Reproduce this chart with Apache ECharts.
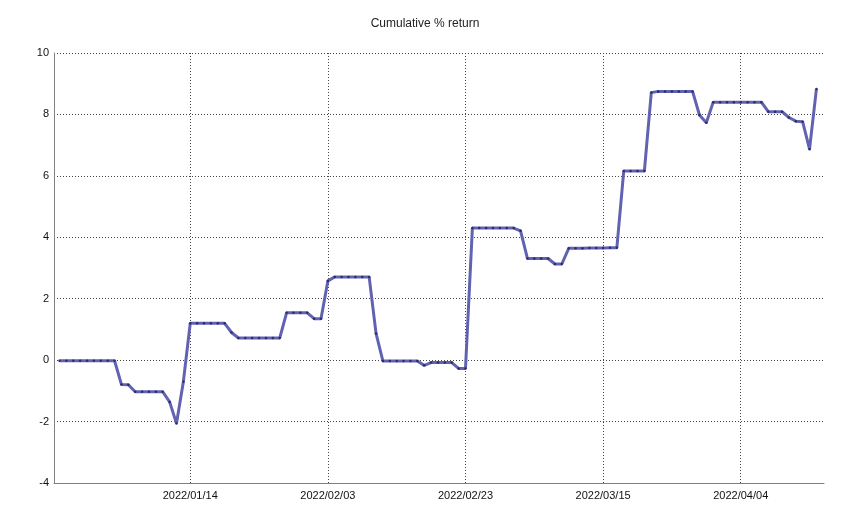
<!DOCTYPE html>
<html>
<head>
<meta charset="utf-8">
<script src="https://cdn.jsdelivr.net/npm/echarts@6/dist/echarts.min.js"></script>
<style>
html,body{margin:0;padding:0;background:#fff;}
#main{width:850px;height:528px;}
</style>
</head>
<body>
<div id="main"></div>
<script>
// first trading day on the chart, one point per calendar day after it
var startDate = '2021/12/26';
// cumulative % return, day by day
var returns = [
	-0.02,-0.02,-0.02,-0.02,-0.02,-0.02,-0.02,-0.02,-0.02,
	-0.79,-0.8,
	-1.03,-1.03,-1.03,-1.03,-1.03,
	-1.36,-2.06,-0.7,
	1.2,1.2,1.2,1.2,1.2,1.2,
	0.9,
	0.72,0.72,0.72,0.72,0.72,0.72,0.72,
	1.54,1.54,1.54,1.54,
	1.35,1.35,
	2.58,
	2.71,2.71,2.71,2.71,2.71,2.71,
	0.87,
	-0.03,-0.03,-0.03,-0.03,-0.03,-0.03,
	-0.17,
	-0.08,-0.08,-0.08,-0.08,
	-0.27,-0.27,
	4.3,4.3,4.3,4.3,4.3,4.3,4.3,
	4.21,
	3.31,3.31,3.31,3.31,
	3.13,3.13,
	3.64,3.64,3.64,3.65,3.65,3.65,3.66,3.66,
	6.16,6.16,6.16,6.16,
	8.71,
	8.75,8.75,8.75,8.75,8.75,8.75,
	7.98,7.73,
	8.4,8.4,8.4,8.4,8.4,8.4,8.4,8.4,
	8.09,8.09,8.09,
	7.9,7.78,7.76,6.87,8.83
];
var tickDates = ['2022/01/14','2022/02/03','2022/02/23','2022/03/15','2022/04/04'];
var yTicks = [-4,-2,0,2,4,6,8,10];

var DAY=86400000;
var t0=new Date(startDate).getTime();
function dayOf(s){
	return Math.round((new Date(s).getTime()-t0)/DAY);
}
function pad(n){ return n<10?'0'+n:''+n; }
function dateOf(d){
	var dt=new Date(t0+d*DAY);
	return dt.getFullYear()+'/'+pad(dt.getMonth()+1)+'/'+pad(dt.getDate());
}

var points=[];
for(var i=0;i<returns.length;i++){
	points.push([i,returns[i]]);
}
var tickDays=[];
for(var k=0;k<tickDates.length;k++){
	tickDays.push(dayOf(tickDates[k]));
}

var font='Liberation Sans';
var myChart=echarts.init(document.getElementById('main'));
var option={
	animation:false,
	backgroundColor:'#ffffff',
	title:{
		text:'Cumulative % return',
		left:'center',
		top:13,
		textStyle:{fontFamily:font,fontSize:12,fontWeight:'normal',color:'#222'}
	},
	grid:{left:54,right:26,top:53,bottom:45,containLabel:false},
	xAxis:{
		type:'value',
		min:-0.8,
		max:111.1,
		axisLine:{show:true,onZero:false,lineStyle:{color:'#808080',width:1}},
		axisTick:{show:false,customValues:tickDays},
		axisLabel:{
			customValues:tickDays,
			fontFamily:font,fontSize:11,color:'#111',margin:7,
			formatter:function(v){ return dateOf(v); }
		},
		splitLine:{show:true,lineStyle:{color:'#444',type:[1,2],width:1}}
	},
	yAxis:{
		type:'value',
		min:yTicks[0],
		max:yTicks[yTicks.length-1],
		interval:2,
		axisLine:{show:true,onZero:false,lineStyle:{color:'#808080',width:1}},
		axisTick:{show:false},
		axisLabel:{fontFamily:font,fontSize:11,color:'#111',margin:5},
		splitLine:{show:true,lineStyle:{color:'#444',type:[1,2],width:1}}
	},
	series:[{
		type:'line',
		data:points,
		symbol:'circle',
		symbolSize:2.5,
		showSymbol:true,
		lineStyle:{color:'#6262b2',width:3},
		itemStyle:{color:'#2c2c68',borderWidth:0}
	}]
};
myChart.setOption(option);
</script>
</body>
</html>
